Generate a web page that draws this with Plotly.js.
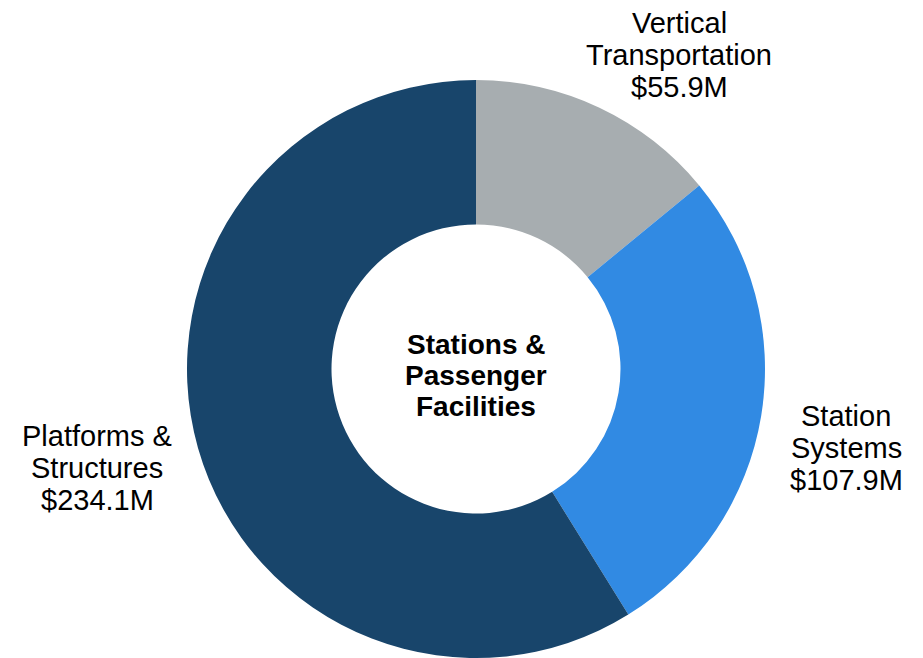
<!DOCTYPE html>
<html><head><meta charset="utf-8">
<script src="https://cdn.plot.ly/plotly-3.0.1.min.js"></script>
<style>html,body{margin:0;padding:0;background:#fff}#c{width:923px;height:658px}</style>
</head><body><div id="c"></div>
<script>
const categories = ["Vertical Transportation", "Station Systems", "Platforms & Structures"];
const labelLines = [["Vertical", "Transportation"], ["Station", "Systems"], ["Platforms &", "Structures"]];
const values = [55.9, 107.9, 234.1];
const centerLines = ["Stations &", "Passenger", "Facilities"];
const colors = ["#A7ADB0", "#318AE3", "#18456B"];

const W = 923, H = 658;
const FONT = "Liberation Sans, Arial, sans-serif";
// label block positions: [x center, y of first line], line step
const labelPos = [[679, 22], [846, 415], [97, 435]];
const STEP = 32;
const annotations = [];
function addLine(txt, x, y, bold, size) {
  annotations.push({
    xref: "paper", yref: "paper", x: x / W, y: 1 - y / H,
    xanchor: "center", yanchor: "middle", showarrow: false, align: "center",
    text: bold ? "<b>" + txt + "</b>" : txt,
    font: {family: FONT, size: size, color: "#000"}
  });
}
categories.forEach((c, i) => {
  const lines = labelLines[i].concat(["$" + values[i].toFixed(1) + "M"]);
  lines.forEach((t, j) => addLine(t, labelPos[i][0], labelPos[i][1] + j * STEP + 1, false, 29));
});
centerLines.forEach((t, j) => addLine(t, 476, 343 + j * 31 + 1, true, 28));

Plotly.newPlot("c", [{
  type: "pie", labels: categories, values: values,
  hole: 0.5, sort: false, direction: "clockwise", rotation: 0,
  marker: {colors: colors, line: {width: 0}},
  textinfo: "none", hoverinfo: "label+value",
  domain: {x: [187 / W, 765 / W], y: [0, 1 - 80 / H]}
}], {
  width: W, height: H, showlegend: false,
  margin: {l: 0, r: 0, t: 0, b: 0},
  paper_bgcolor: "#fff",
  annotations: annotations
}, {displayModeBar: false});
</script></body></html>
